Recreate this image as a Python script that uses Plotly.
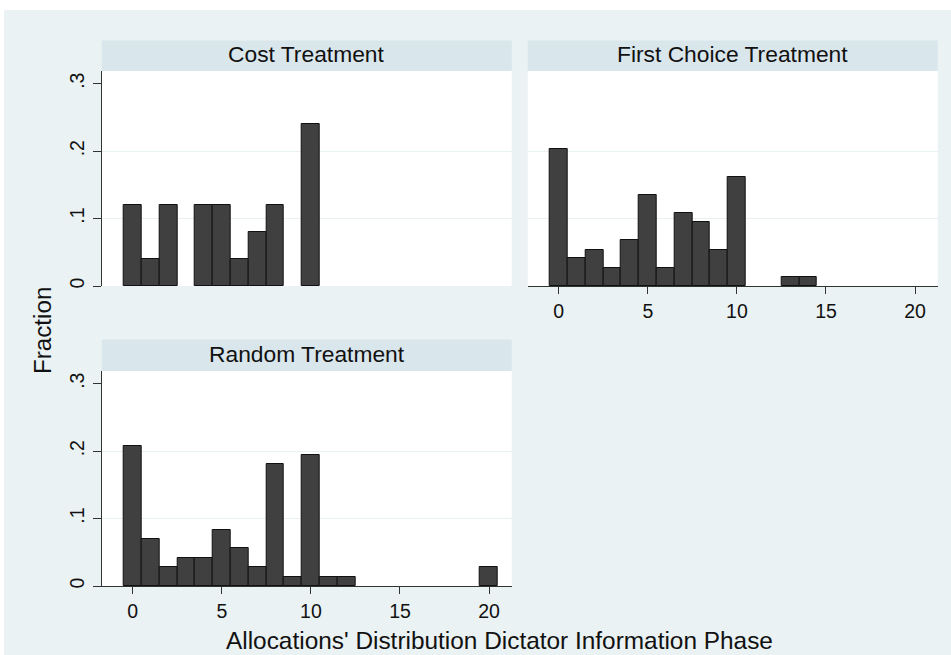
import plotly.graph_objects as go

# ---- data ----
cost_x = [0, 1, 2, 4, 5, 6, 7, 8, 10]
cost_frac = [0.12, 0.04, 0.12, 0.12, 0.12, 0.04, 0.08, 0.12, 0.24]

first_x = [0, 1, 2, 3, 4, 5, 6, 7, 8, 9, 10, 13, 14]
first_frac = [0.203, 0.041, 0.054, 0.027, 0.068, 0.135, 0.027, 0.108, 0.095, 0.054, 0.162, 0.0135, 0.0135]

random_x = [0, 1, 2, 3, 4, 5, 6, 7, 8, 9, 10, 11, 12, 20]
random_frac = [0.208, 0.069, 0.028, 0.042, 0.042, 0.083, 0.056, 0.028, 0.181, 0.014, 0.194, 0.014, 0.014, 0.028]

panel_titles = ["Cost Treatment", "First Choice Treatment", "Random Treatment"]
x_ticks = [0, 5, 10, 15, 20]
y_ticks = [0, 0.1, 0.2, 0.3]
y_tick_labels = ["0", ".1", ".2", ".3"]
x_title = "Allocations' Distribution Dictator Information Phase"
y_title = "Fraction"

# ---- layout helpers ----
W, H = 951, 655
def px(x):
    return x / W
def py(y):
    return 1 - y / H

BG = "#EAF2F3"
STRIP = "#D9E6EC"
BAR = "#404040"
INK = "#111111"
FONT = "Liberation Sans, Arial, sans-serif"

XR = [-1.74, 21.27]
YR = [0, 0.3187]

# panel pixel boxes: (left, right, top, bottom)
boxes = {
    "cost": (101.7, 511.7, 71, 286),
    "first": (527.7, 937.7, 71, 286),
    "random": (101.7, 511.7, 371, 586),
}
strips = {
    "cost": (101.7, 511.7, 40.5, 71),
    "first": (527.7, 937.7, 40.5, 71),
    "random": (101.7, 511.7, 339.5, 371),
}

fig = go.Figure()

def bar(x, y, xa, ya):
    return go.Bar(x=x, y=y, xaxis=xa, yaxis=ya, width=1,
                  marker=dict(color=BAR, line=dict(color="#111111", width=1)),
                  showlegend=False, hoverinfo="x+y")

fig.add_trace(bar(cost_x, cost_frac, "x", "y"))
fig.add_trace(bar(first_x, first_frac, "x2", "y2"))
fig.add_trace(bar(random_x, random_frac, "x3", "y3"))

def xaxis(box, show, anchor):
    l, r, t, b = box
    d = dict(domain=[px(l), px(r)], range=XR, anchor=anchor, automargin=False,
             showgrid=False, zeroline=False, fixedrange=True)
    if show:
        d.update(showline=True, linecolor="#333333", linewidth=1.2,
                 ticks="outside", ticklen=7, tickwidth=1.2, tickcolor="#333333",
                 tickvals=x_ticks, ticktext=[str(v) for v in x_ticks],
                 tickfont=dict(family=FONT, size=19.5, color=INK), ticklabelstandoff=0,
                 showticklabels=True)
    else:
        d.update(showline=False, ticks="", showticklabels=False)
    return d

def yaxis(box, show, anchor):
    l, r, t, b = box
    d = dict(domain=[py(b), py(t)], range=YR, anchor=anchor, automargin=False,
             showgrid=False, zeroline=False, fixedrange=True,
             tickvals=y_ticks,
             minor=dict(tickvals=[0.1, 0.2], showgrid=True, gridcolor="#EAF1F3", gridwidth=1.2, ticks=""))
    if show:
        d.update(showline=True, linecolor="#333333", linewidth=1.2,
                 ticks="outside", ticklen=8, tickwidth=1.2, tickcolor="#333333",
                 ticktext=y_tick_labels, tickangle=-90,
                 tickfont=dict(family=FONT, size=19.5, color=INK), ticklabelstandoff=1,
                 showticklabels=True)
    else:
        d.update(showline=False, ticks="", showticklabels=False)
    return d

fig.update_layout(
    width=W, height=H,
    margin=dict(l=0, r=0, t=0, b=0),
    paper_bgcolor=BG,
    plot_bgcolor="white",
    bargap=0,
    xaxis=xaxis(boxes["cost"], False, "y"),
    yaxis=yaxis(boxes["cost"], True, "x"),
    xaxis2=xaxis(boxes["first"], True, "y2"),
    yaxis2=yaxis(boxes["first"], False, "x2"),
    xaxis3=xaxis(boxes["random"], True, "y3"),
    yaxis3=yaxis(boxes["random"], True, "x3"),
    font=dict(family=FONT, color=INK),
)

shapes = []
# white outer strips (top and left)
shapes.append(dict(type="rect", xref="paper", yref="paper", x0=0, x1=1, y0=py(10), y1=1,
                   fillcolor="white", line=dict(width=0), layer="below"))
shapes.append(dict(type="rect", xref="paper", yref="paper", x0=0, x1=px(4), y0=0, y1=1,
                   fillcolor="white", line=dict(width=0), layer="below"))
annotations = []
for key, title in zip(["cost", "first", "random"], panel_titles):
    l, r, t, b = strips[key]
    shapes.append(dict(type="rect", xref="paper", yref="paper", x0=px(l), x1=px(r),
                       y0=py(b), y1=py(t), fillcolor=STRIP, line=dict(width=0), layer="below"))
    annotations.append(dict(text=title, xref="paper", yref="paper", x=px((l + r) / 2),
                            y=py((t + b) / 2 - 1.5), xanchor="center", yanchor="middle",
                            showarrow=False, font=dict(family=FONT, size=22.8, color=INK)))

annotations.append(dict(text=x_title, xref="paper", yref="paper", x=px(500), y=py(640),
                        xanchor="center", yanchor="middle", showarrow=False,
                        font=dict(family=FONT, size=24.4, color=INK)))
annotations.append(dict(text=y_title, xref="paper", yref="paper", x=px(42), y=py(331),
                        xanchor="center", yanchor="middle", showarrow=False, textangle=-90,
                        font=dict(family=FONT, size=24.2, color=INK)))

fig.update_layout(shapes=shapes, annotations=annotations)

fig.write_html("out.html")
